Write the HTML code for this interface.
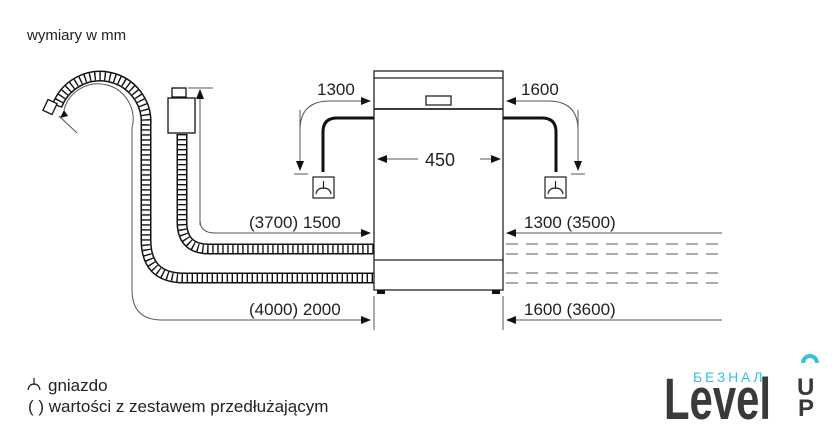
<!DOCTYPE html>
<html><head><style>
body{margin:0;background:#fff;width:840px;height:440px;overflow:hidden}
svg{display:block}
text{font-family:"Liberation Sans",sans-serif;fill:#222}
</style></head><body>
<svg width="840" height="440" viewBox="0 0 840 440" xmlns="http://www.w3.org/2000/svg">
<defs>
<marker id="ar" markerWidth="10" markerHeight="8" refX="9" refY="4" orient="auto" markerUnits="userSpaceOnUse"><path d="M0,0 L10,4 L0,8 Z" fill="#111"/></marker>
</defs>
<text x="27" y="40" font-size="15">wymiary w mm</text>

<g fill="none">
<path d="M57,106 A46,46 0 0 1 146,125 L146,240 Q146,278 184,278 L374,278" stroke="#111" stroke-width="11"/>
<path d="M57,106 A46,46 0 0 1 146,125 L146,240 Q146,278 184,278 L374,278" stroke="#fff" stroke-width="8"/>
<path d="M57,106 A46,46 0 0 1 146,125 L146,240 Q146,278 184,278 L374,278" stroke="#111" stroke-width="8" stroke-dasharray="1.4 3.6"/>
<path d="M182,134 L182,222 Q182,249 209,249 L374,249" stroke="#111" stroke-width="11"/>
<path d="M182,134 L182,222 Q182,249 209,249 L374,249" stroke="#fff" stroke-width="8"/>
<path d="M182,134 L182,222 Q182,249 209,249 L374,249" stroke="#111" stroke-width="8" stroke-dasharray="1.4 3.6"/>
</g>
<rect x="45" y="101" width="10" height="12" fill="#fff" stroke="#111" stroke-width="1.3" transform="rotate(25 50 107)"/>
<rect x="168" y="98" width="27" height="35" fill="#fff" stroke="#111" stroke-width="1.3"/>
<rect x="172" y="88" width="14" height="9" fill="#fff" stroke="#111" stroke-width="1.3"/>

<g fill="none" stroke="#555" stroke-width="1">
<path d="M64,110 A35,35 0 0 1 132,128 L132,290 Q132,320 162,320 L370,320" marker-end="url(#ar)"/>
<path d="M200,225 L200,90" marker-end="url(#ar)"/>
<path d="M200,220 Q200,233 215,233 L370,233" marker-end="url(#ar)"/>
<line x1="188" y1="88" x2="213" y2="88"/>
<line x1="59" y1="116" x2="77" y2="133"/>
<path d="M300,168 L300,130 Q300,101 330,101 L370,101" marker-end="url(#ar)"/>
<path d="M300,110 L300,170" marker-end="url(#ar)"/>
<line x1="294" y1="174" x2="308" y2="174"/>
<path d="M578,168 L578,130 Q578,101 548,101 L507,101" marker-end="url(#ar)"/>
<path d="M578,110 L578,170" marker-end="url(#ar)"/>
<line x1="571" y1="174" x2="585" y2="174"/>
<path d="M418,159 L378,159" marker-end="url(#ar)"/>
<path d="M480,159 L500,159" marker-end="url(#ar)"/>
<path d="M722,233 L507,233" marker-end="url(#ar)"/>
<path d="M722,320 L507,320" marker-end="url(#ar)"/>
<line x1="374" y1="296" x2="374" y2="330"/>
<line x1="503" y1="296" x2="503" y2="330"/>
<g stroke-dasharray="12 8">
<line x1="506" y1="244" x2="722" y2="244"/>
<line x1="506" y1="254" x2="722" y2="254"/>
<line x1="506" y1="273" x2="722" y2="273"/>
<line x1="506" y1="283" x2="722" y2="283"/>
</g>
</g>
<path d="M64,110 L60,118 L68,116 Z" fill="#111"/>

<g fill="none" stroke="#222" stroke-width="1.3">
<rect x="374" y="71" width="129" height="219"/>
<line x1="374" y1="78" x2="503" y2="78"/>
<line x1="374" y1="109" x2="503" y2="109" stroke-width="1.8"/>
<line x1="374" y1="260" x2="503" y2="260"/>
<rect x="426" y="96" width="25" height="9"/>
</g>
<rect x="377" y="290" width="8" height="4" fill="#111"/>
<rect x="492" y="290" width="8" height="4" fill="#111"/>
<g fill="none" stroke="#111" stroke-width="3">
<path d="M374,118 L337,118 Q323,118 323,132 L323,172"/>
<path d="M503,118 L542,118 Q556,118 556,132 L556,172"/>
</g>
<g fill="none" stroke="#222" stroke-width="1.2">
<rect x="313" y="177" width="21" height="21"/>
<rect x="545" y="177" width="21" height="21"/>
<path d="M323.5,181 V189 M316,194 Q317,188 323.5,188 Q330,188 331,194"/>
<path d="M555.5,181 V189 M548,194 Q549,188 555.5,188 Q562,188 563,194"/>
<path d="M34,378 V385 M28,390 Q29,384 34,384 Q39,384 40,390"/>
</g>

<g font-size="17">
<text x="317" y="95">1300</text>
<text x="521" y="95">1600</text>
<text x="440" y="166" text-anchor="middle" font-size="18">450</text>
<text x="249" y="228">(3700) 1500</text>
<text x="524" y="228">1300 (3500)</text>
<text x="249" y="315">(4000) 2000</text>
<text x="524" y="315">1600 (3600)</text>
<text x="48" y="391">gniazdo</text>
<text x="28" y="412">( ) wartości z zestawem przedłużającym</text>
</g>

<text x="693" y="382" font-size="14" style="fill:#3bbfe0" letter-spacing="2.8">БЕЗНАЛ</text>
<text x="664" y="419" font-size="58" font-weight="bold" style="fill:#3a3a3a" textLength="107" lengthAdjust="spacingAndGlyphs">Level</text>
<text x="797" y="395" font-size="24" font-weight="bold" style="fill:#3a3a3a">U</text>
<text x="798" y="416" font-size="24" font-weight="bold" style="fill:#3a3a3a">P</text>
<path d="M801,363 A9,9 0 0 1 819,363 L815,363 A5,5 0 0 0 805,363 Z" fill="#3bbfe0"/>
</svg>
</body></html>
